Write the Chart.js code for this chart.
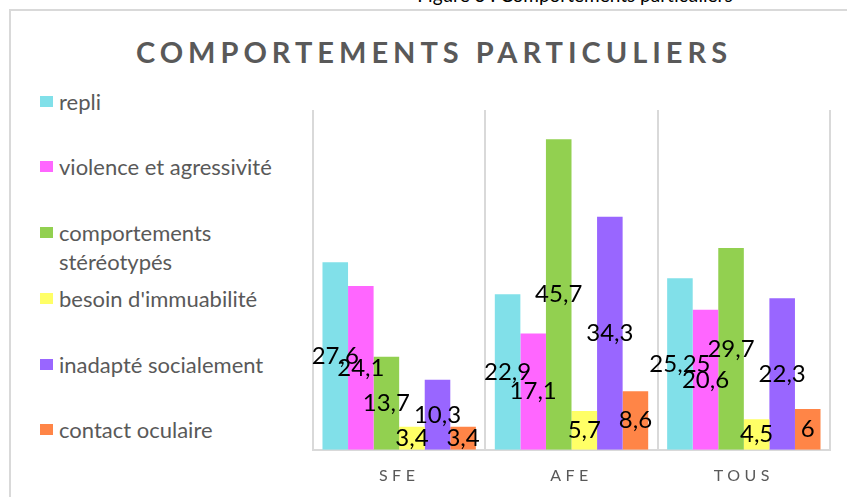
<!DOCTYPE html>
<html lang="fr">
<head>
<meta charset="utf-8">
<title>Comportements particuliers</title>
<script src="https://cdn.jsdelivr.net/npm/chart.js@4"></script>
<style>
  html, body { margin: 0; padding: 0; background: #fff; }
  body { width: 847px; height: 497px; position: relative; overflow: hidden; font-family: Lato, "Open Sans", sans-serif; }
  #caption { position: absolute; left: 385px; top: -17px; width: 380px; text-align: center; font-size: 19px; color: #000; white-space: nowrap; }
  #frame { position: absolute; left: 9px; top: 9px; width: 900px; height: 600px; border-left: 2px solid #d9d9d9; border-top: 2px solid #d9d9d9; }
  #title { position: absolute; left: 0; top: 34px; width: 868px; text-align: center; font-size: 29px; font-weight: bold; letter-spacing: 5px; color: #595959; white-space: nowrap; }
  #legend { position: absolute; left: 0; top: 0; }
  .item { position: absolute; left: 40px; font-size: 22px; line-height: 29px; color: #595959; white-space: nowrap; }
  .item .key { position: absolute; left: 0; top: 9px; width: 13px; height: 11px; }
  .item .txt { display: block; padding-left: 19px; }
  #c { position: absolute; left: 0; top: 0; }
</style>
</head>
<body>
<div id="caption">Figure 3 : Comportements particuliers</div>
<div id="frame"></div>
<div id="title">COMPORTEMENTS PARTICULIERS</div>
<div id="legend"></div>
<canvas id="c" width="847" height="516"></canvas>
<script>
/* ============================ Data ============================ */
const groups = ["SFE", "AFE", "TOUS"];
const seriesNames = ["repli", "violence et agressivité", "comportements stéréotypés", "besoin d'immuabilité", "inadapté socialement", "contact oculaire"];
const repli = [27.6, 22.9, 25.25];
const violence = [24.1, 17.1, 20.6];
const stereotypes = [13.7, 45.7, 29.7];
const immuabilite = [3.4, 5.7, 4.5];
const inadapte = [10.3, 34.3, 22.3];
const contactOculaire = [3.4, 8.6, 6];
const colors = ["#81e0e9", "#ff66ff", "#92d050", "#ffff66", "#9966ff", "#ff8547"];

/* ============================ Legend (html) ============================ */
const legendTops = [87, 152, 218, 284, 350, 415];
const legend = document.getElementById("legend");
seriesNames.forEach((name, i) => {
    const div = document.createElement("div");
    div.className = "item";
    div.style.top = legendTops[i] + "px";
    const key = document.createElement("span");
    key.className = "key";
    key.style.background = colors[i];
    const txt = document.createElement("span");
    txt.className = "txt";
    txt.innerHTML = name === "comportements stéréotypés" ? "comportements<br>stéréotypés" : name;
    div.appendChild(key);
    div.appendChild(txt);
    legend.appendChild(div);
});

/* ============================ Labels plugin ============================ */
const barLabels = {
    id: "barLabels",
    beforeDraw(chart) {
        chart.ctx.letterSpacing = "4.5px";
    },
    afterDatasetsDraw(chart) {
        const ctx = chart.ctx;
        ctx.save();
        ctx.letterSpacing = "0px";
        ctx.font = "24px Lato, 'Open Sans', sans-serif";
        ctx.fillStyle = "#000";
        ctx.textAlign = "center";
        ctx.textBaseline = "middle";
        chart.data.datasets.forEach((ds, i) => {
            chart.getDatasetMeta(i).data.forEach((bar, j) => {
                const txt = String(ds.data[j]).replace(".", ",");
                ctx.fillText(txt, bar.x, (bar.y + bar.base) / 2);
            });
        });
        ctx.restore();
    }
};

/* ============================ Chart ============================ */
const allSeries = [repli, violence, stereotypes, immuabilite, inadapte, contactOculaire];
new Chart(document.getElementById("c"), {
    type: "bar",
    data: {
        labels: groups,
        datasets: allSeries.map((vals, i) => ({
            label: seriesNames[i],
            data: vals,
            backgroundColor: colors[i],
            borderWidth: 0,
            barPercentage: 1.0,
            categoryPercentage: 0.89
        }))
    },
    options: {
        responsive: false,
        animation: false,
        events: [],
        layout: { padding: { left: 313, right: 17, top: 110, bottom: 15 } },
        plugins: { legend: { display: false }, title: { display: false }, tooltip: { enabled: false } },
        scales: {
            x: {
                grid: { display: true, color: "#d9d9d9", lineWidth: 2, drawTicks: false, tickLength: 0, offset: true },
                border: { display: true, color: "#d9d9d9", width: 2 },
                ticks: { color: "#595959", font: { size: 16, family: "Lato, 'Open Sans', sans-serif" }, padding: 16 }
            },
            y: { display: false, min: 0, max: 50 }
        }
    },
    plugins: [barLabels]
});
</script>
</body>
</html>
